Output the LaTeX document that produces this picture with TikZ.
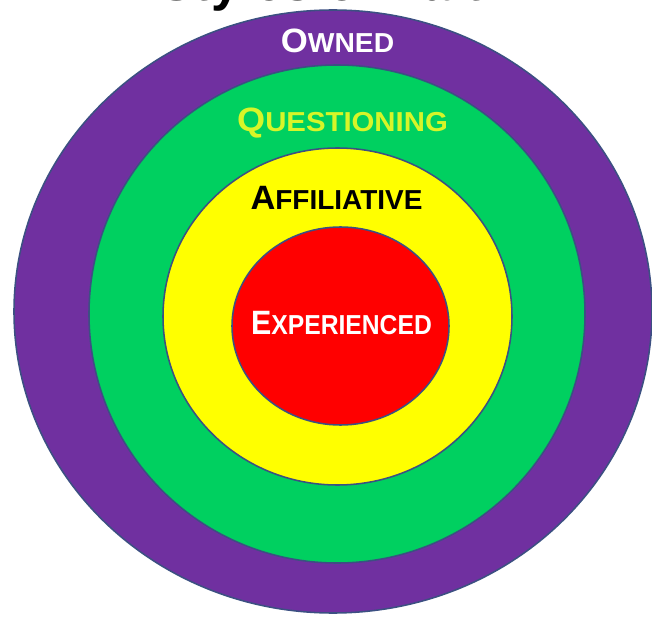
\documentclass[tikz,border=0pt]{standalone}
\usepackage{fontspec}
\setmainfont{Liberation Sans}
\usepackage{graphicx}
\usepackage{tikz}

\definecolor{ownedpurple}{RGB}{112,48,160}
\definecolor{questiongreen}{RGB}{0,208,96}
\definecolor{affilyellow}{RGB}{255,255,0}
\definecolor{experred}{RGB}{255,0,0}
\definecolor{ringedge}{RGB}{60,80,130}
\definecolor{questiontext}{RGB}{215,245,40}

% first letter large, the rest as smaller capitals; #1 stretches the word
\newcommand{\ringlabel}[3]{\scalebox{#1}[1]{{\fontsize{24}{24}\selectfont #2}{\fontsize{19.5}{19.5}\selectfont #3}}}

\begin{document}
\begin{tikzpicture}[
			x=0.025cm, y=-0.025cm,
			ring/.style     = {draw=ringedge, line width=1.1pt},
			ringtext/.style = {anchor=base, inner sep=0pt, font=\bfseries}
			]
			\useasboundingbox (0,0) rectangle (652,617);
			\clip (0,0) rectangle (652,617);

			% title, cut by the top edge
			\node[anchor=base, inner sep=0pt, font=\bfseries\fontsize{37}{37}\selectfont] (title) at (337,1) {Styles of Faith};

			% rings, outside in
			\filldraw[ring, fill=ownedpurple] (333,311.5) ellipse [x radius=319, y radius=301.5];
			\filldraw[ring, fill=questiongreen] (337,314) ellipse [x radius=248, y radius=249];
			\filldraw[ring, fill=affilyellow] (337.5,316.5) ellipse [x radius=174.5, y radius=168.5];
			\filldraw[ring, fill=experred] (340.5,326) ellipse [x radius=108.5, y radius=99];

			% labels
			\node[ringtext, white] (owned) at (337.5,53) {\ringlabel{1.03}{O}{WNED}};
			\node[ringtext, questiontext] (questioning) at (342.5,132) {\ringlabel{1.07}{Q}{UESTIONING}};
			\node[ringtext, black] (affiliative) at (336.5,210) {\ringlabel{1.02}{A}{FFILIATIVE}};
			\node[ringtext, white] (experienced) at (341.5,334) {\ringlabel{0.9}{E}{XPERIENCED}};
		\end{tikzpicture}
\end{document}
